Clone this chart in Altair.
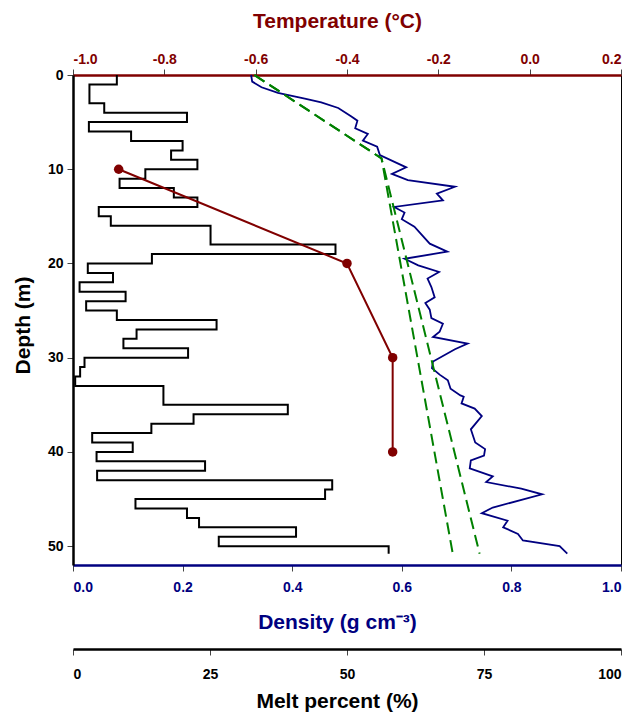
import altair as alt
import pandas as pd

# ---- Melt percent (black step profile), one value per 1 m layer ----
melt_layer_top = list(range(0, 51))
melt_values = [8.0, 3.0, 3.0, 5.7, 20.8, 2.9, 10.6, 20.0, 17.9, 22.7,
               13.2, 8.5, 18.4, 22.7, 4.7, 6.9, 25.1, 25.1, 47.9, 14.4,
               2.7, 7.3, 1.2, 9.6, 2.4, 8.0, 26.2, 11.6, 9.2, 21.0,
               2.1, 1.3, 0.4, 16.5, 16.5, 39.2, 22.0, 14.3, 3.5, 10.9,
               4.3, 24.1, 4.4, 47.3, 46.0, 11.4, 20.8, 23.0, 40.7, 26.6,
               57.6]
melt_bottom = 50.8

# ---- Density profile (blue) ----
density_depth = [0, 0.7, 1.3, 1.9, 2.5, 2.9, 3.5, 4.4, 4.85, 5.66,
                 6.26, 6.97, 7.6, 8.5, 9.8, 10.5, 11.15, 11.86, 12.6, 13.3,
                 14.0, 14.6, 15.3, 16.1, 17.9, 18.75, 19.5, 20.2, 20.9, 21.6,
                 22.5, 23.6, 24.2, 24.9, 25.8, 26.4, 27.25, 27.8, 28.5, 29.1,
                 30.4, 31.1, 31.8, 32.4, 33.3, 34.0, 34.15, 34.85, 35.4, 36.2,
                 37.6, 39.0, 39.7, 40.4, 40.9, 41.75, 42.6, 43.2, 43.9, 44.5,
                 45.9, 46.5, 47.3, 48.0, 48.7, 49.4, 50.0, 50.8]
density_values = [0.325, 0.327, 0.344, 0.374, 0.423, 0.453, 0.484, 0.508, 0.519, 0.515,
                  0.538, 0.529, 0.555, 0.560, 0.608, 0.582, 0.611, 0.697, 0.664, 0.675,
                  0.586, 0.605, 0.600, 0.623, 0.651, 0.683, 0.605, 0.630, 0.668, 0.647,
                  0.654, 0.660, 0.643, 0.651, 0.654, 0.675, 0.669, 0.657, 0.720, 0.697,
                  0.657, 0.655, 0.669, 0.684, 0.689, 0.707, 0.713, 0.709, 0.733, 0.746,
                  0.726, 0.734, 0.752, 0.750, 0.726, 0.724, 0.766, 0.754, 0.818, 0.856,
                  0.766, 0.746, 0.793, 0.785, 0.812, 0.821, 0.888, 0.902]

# ---- Modelled density (green dashed) ----
model_depth = [0, 8.85, 50.8]
model_a = [0.331, 0.563, 0.693]
model_b = [0.331, 0.563, 0.742]

# ---- Temperature (dark red) ----
temp_depth = [10, 20, 30, 40]
temp_values = [-0.90, -0.40, -0.30, -0.30]

FONT = "Liberation Sans"
RED = "#800000"
NAVY = "#000080"
GREEN = "#008000"

melt_df = pd.DataFrame({
    "depth": melt_layer_top + [melt_bottom],
    "melt": melt_values + [melt_values[-1]],
    "i": list(range(len(melt_layer_top) + 1)),
})
dens_df = pd.DataFrame({"depth": density_depth, "density": density_values,
                        "i": list(range(len(density_depth)))})
model_df = pd.DataFrame({
    "depth": model_depth * 2,
    "density": model_a + model_b,
    "model": ["a"] * len(model_depth) + ["b"] * len(model_depth),
    "i": list(range(len(model_depth))) * 2,
})
temp_df = pd.DataFrame({"depth": temp_depth, "temp": temp_values})

y_enc = alt.Y(
    "depth:Q",
    scale=alt.Scale(domain=[0, 52], reverse=True, nice=False, zero=False),
    axis=alt.Axis(title="Depth (m)", values=[0, 10, 20, 30, 40, 50],
                  domainColor="black", domainWidth=2.5, tickColor="#444",
                  tickSize=6, labelColor="black", titleColor="black",
                  labelPadding=4, titlePadding=14, titleY=250),
)

dens_x = alt.X(
    "density:Q",
    scale=alt.Scale(domain=[0, 1], nice=False, zero=False),
    axis=alt.Axis(orient="bottom", title="Density (g cm\u207b\u00b3)",
                  values=[0, 0.2, 0.4, 0.6, 0.8, 1.0], format=".1f",
                  domainColor=NAVY, domainWidth=2.5, tickColor="#444",
                  tickSize=6, labelColor=NAVY, titleColor=NAVY,
                  labelPadding=9, titlePadding=17, titleX=264),
)

blue = alt.Chart(dens_df).mark_line(color=NAVY, strokeWidth=1.8).encode(
    x=dens_x, y=y_enc, order="i:Q")
green = alt.Chart(model_df).mark_line(color=GREEN, strokeWidth=2,
                                      strokeDash=[12, 6]).encode(
    x=dens_x, y=y_enc, detail="model:N", order="i:Q")
density_layer = alt.layer(blue, green)

melt_line = alt.Chart(melt_df).mark_line(
    color="black", strokeWidth=2, interpolate="step-before").encode(
    x=alt.X("melt:Q", scale=alt.Scale(domain=[0, 100], nice=False, zero=False),
            axis=alt.Axis(orient="bottom", title="Melt percent (%)",
                          values=[0, 25, 50, 75, 100], offset=84,
                          domainColor="black", domainWidth=2.5,
                          tickColor="#444", tickSize=6, labelColor="black",
                          titleColor="black", labelPadding=12,
                          titlePadding=9, titleX=264)),
    y=y_enc, order="i:Q")

temp_x = alt.X(
    "temp:Q",
    scale=alt.Scale(domain=[-1.0, 0.2], nice=False, zero=False),
    axis=alt.Axis(orient="top", title="Temperature (\u00b0C)",
                  values=[-1.0, -0.8, -0.6, -0.4, -0.2, 0.0, 0.2],
                  labelExpr="replace(format(datum.value, '.1f'), '\u2212', '-')",
                  domainColor=RED, domainWidth=2.5, tickColor="#444",
                  tickSize=6, labelColor=RED, titleColor=RED,
                  labelPadding=3, titlePadding=21, titleX=264),
)
temp_line = alt.Chart(temp_df).mark_line(color=RED, strokeWidth=2).encode(
    x=temp_x, y=y_enc)
temp_pts = alt.Chart(temp_df).mark_circle(color=RED, opacity=1, size=90).encode(
    x=temp_x, y=y_enc)
temp_layer = alt.layer(temp_line, temp_pts)

chart = alt.layer(density_layer, melt_line, temp_layer).resolve_scale(
    x="independent").resolve_axis(x="independent").properties(
    width=548, height=490,
    autosize=alt.AutoSizeParams(type="none"),
    padding={"left": 65, "top": 67, "right": 8, "bottom": 147},
).configure_view(stroke="black", strokeWidth=1).configure_axis(
    grid=False, labelFont=FONT, titleFont=FONT, labelFontSize=14,
    titleFontSize=21, labelFontWeight="bold", titleFontWeight="bold",
)

chart.save("out.html", embed_options={"renderer": "svg", "actions": False})
